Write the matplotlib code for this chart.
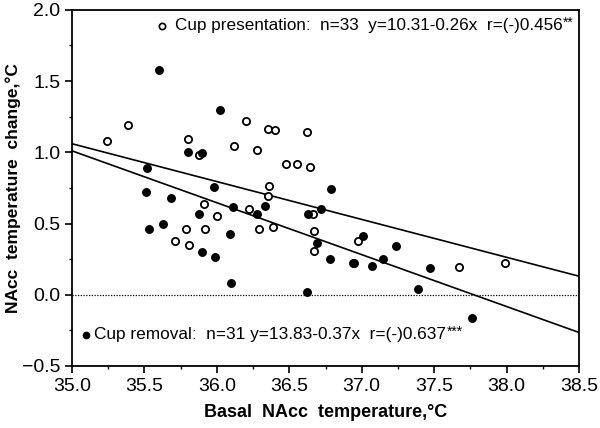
import matplotlib
matplotlib.use("Agg")
import matplotlib.pyplot as plt
from matplotlib.ticker import MultipleLocator

plt.rcParams['font.family'] = ['Liberation Sans', 'DejaVu Sans']

# Cup presentation (open circles)
pres_x = [35.24, 35.39, 36.20, 36.35, 36.40, 36.62, 35.80, 36.12, 36.28, 35.88,
          36.48, 36.55, 36.645, 36.36, 36.35, 35.91, 36.22, 36.00, 35.79, 35.92,
          36.29, 36.39, 35.71, 35.81, 36.665, 36.67, 36.67, 36.976, 37.67, 37.99]
pres_y = [1.08, 1.19, 1.22, 1.165, 1.156, 1.144, 1.09, 1.045, 1.014, 0.98,
          0.917, 0.917, 0.896, 0.766, 0.69, 0.636, 0.604, 0.551, 0.462, 0.462,
          0.462, 0.476, 0.377, 0.346, 0.57, 0.448, 0.31, 0.374, 0.198, 0.222]

# Cup removal (filled circles)
rem_x = [35.60, 36.02, 35.80, 35.90, 35.52, 35.98, 35.51, 35.68, 36.11, 36.33,
         36.275, 35.88, 35.63, 35.53, 36.09, 35.90, 35.99, 36.10, 36.62, 36.63,
         36.69, 36.79, 37.01, 36.78, 36.94, 36.95, 37.07, 37.15, 37.24, 37.47,
         37.39, 37.76, 36.72]
rem_y = [1.58, 1.30, 1.00, 0.993, 0.887, 0.757, 0.724, 0.68, 0.613, 0.625,
         0.57, 0.57, 0.495, 0.462, 0.429, 0.30, 0.266, 0.08, 0.016, 0.57,
         0.36, 0.742, 0.41, 0.254, 0.22, 0.22, 0.20, 0.254, 0.344, 0.188,
         0.038, -0.16, 0.60]

# regression lines as drawn (ends at the axis limits)
fit_x = [35.0, 38.5]
fit_pres = [1.06, 0.13]
fit_rem = [1.01, -0.265]

pres_label = 'Cup presentation:  n=33  y=10.31-0.26x  r=(-)0.456'
rem_label = 'Cup removal:  n=31 y=13.83-0.37x  r=(-)0.637'
pres_sig = '**'
rem_sig = '***'

fig = plt.figure(figsize=(6, 4.28), dpi=100)
ax = fig.add_axes([0.12, 0.145, 0.845, 0.832])

ax.axhline(0, color='black', lw=0.9, ls=(0, (1, 1.2)))
ax.plot(fit_x, fit_pres, color='black', lw=1.2)
ax.plot(fit_x, fit_rem, color='black', lw=1.2)
ax.plot(pres_x, pres_y, 'o', ms=5.2, mfc='white', mec='black', mew=1.3)
ax.plot(rem_x, rem_y, 'o', ms=5.4, mfc='black', mec='black')

ax.set_xlim(35.0, 38.5)
ax.set_ylim(-0.5, 2.0)
ax.xaxis.set_major_locator(MultipleLocator(0.5))
ax.xaxis.set_minor_locator(MultipleLocator(0.25))
ax.yaxis.set_major_locator(MultipleLocator(0.5))
ax.yaxis.set_minor_locator(MultipleLocator(0.25))
ax.xaxis.set_major_formatter('{x:.1f}')
ax.yaxis.set_major_formatter('{x:.1f}')
ax.tick_params(which='major', length=5, width=1.2, labelsize=14, direction='out')
ax.tick_params(which='minor', length=2.5, width=1, direction='out')
for s in ax.spines.values():
    s.set_linewidth(1.3)

ax.set_xlabel('Basal  NAcc  temperature,°C', fontsize=13, fontweight='bold', labelpad=7)
ax.set_ylabel('NAcc  temperature  change,°C', fontsize=12.5, fontweight='bold')
ax.yaxis.set_label_coords(-0.1, 0.5)

ax.plot([35.62], [1.89], 'o', ms=4.5, mfc='white', mec='black', mew=1.2)
t1 = ax.text(35.71, 1.89, pres_label, fontsize=11, va='center')
ax.plot([35.1], [-0.28], 'o', ms=4.5, mfc='black', mec='black')
t2 = ax.text(35.15, -0.28, rem_label, fontsize=11, va='center')

# stretch the two legend lines to the width they take in the reference
fig.canvas.draw()
r = fig.canvas.get_renderer()
for t, target_px in [(t1, 386), (t2, 350)]:
    w = t.get_window_extent(r).width
    t.set_fontsize(11 * target_px / w)

# small raised significance stars
for t, sig in [(t1, pres_sig), (t2, rem_sig)]:
    ax.annotate(sig, xy=(1, 0.7), xycoords=t, xytext=(0.5, 0),
                textcoords='offset points', fontsize=10, ha='left', va='center')

fig.savefig('out.png', dpi=100)
